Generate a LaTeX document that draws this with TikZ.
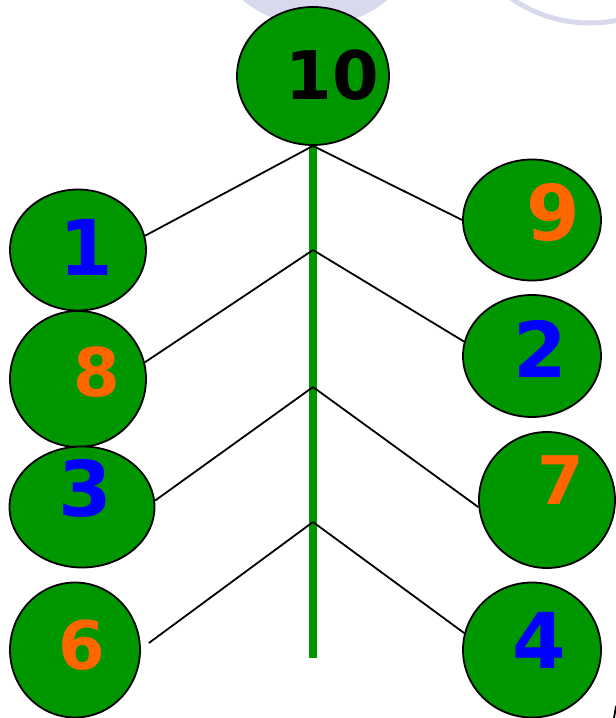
\documentclass[tikz,border=0pt]{standalone}
\usepackage{fontspec}
\setmainfont{DejaVu Sans}
\usepackage{tikz}
\usetikzlibrary{shapes.geometric}

\definecolor{leafgreen}{RGB}{0,150,0}
\definecolor{numorange}{RGB}{255,102,0}
\definecolor{numblue}{RGB}{0,0,255}
\definecolor{lavender}{RGB}{217,217,238}

\begin{document}
\begin{tikzpicture}[
  x=1pt, y=-1pt,
  bub/.style 2 args={ellipse, draw=black, line width=1.8pt, fill=leafgreen,
                     inner sep=0pt, minimum width=#1pt, minimum height=#2pt},
  num/.style={font=\fontsize{77}{80}\selectfont\bfseries, inner sep=0pt},
  small/.style={num, font=\fontsize{67}{70}\selectfont\bfseries},
  twig/.style={line width=1.8pt, black, line join=round},
  trunk/.style={line width=8pt, leafgreen}
]
\useasboundingbox (0,0) rectangle (616,718);

% pale shapes cut by the top edge
\fill[lavender] (315,-88) circle[radius=114pt];
\draw[lavender, line width=5pt] (590,-115) circle[radius=138pt];

% bubbles
\node[bub={152}{138}] (n10) at (313,76)  {};
\node[bub={136}{121}] (n1)  at (78,250)  {};
\node[bub={136}{136}] (n8)  at (78,379)  {};
\node[bub={145}{121}] (n3)  at (82,507)  {};
\node[bub={130}{135}] (n6)  at (75,650)  {};
\node[bub={138}{121}] (n9)  at (532,220) {};
\node[bub={138}{122}] (n2)  at (532,356) {};
\node[bub={136}{136}] (n7)  at (547,500) {};
\node[bub={138}{135}] (n4)  at (532,650) {};

% numbers
\node[small]                  (t10) at (332,75)  {10};
\node[num, text=numblue]      (t1)  at (86,247)  {1};
\node[small, text=numorange]  (t8)  at (97,372)  {8};
\node[num, text=numblue]      (t3)  at (85,488)  {3};
\node[small, text=numorange]  (t6)  at (82,645)  {6};
\node[num, text=numorange]    (t9)  at (553,213) {9};
\node[num, text=numblue]      (t2)  at (540,349) {2};
\node[small, text=numorange]  (t7)  at (561,480) {7};
\node[num, text=numblue]      (t4)  at (539,640) {4};

% trunk and twigs
\coordinate (b2)   at (313,250);
\coordinate (b3)   at (313,387);
\coordinate (b4)   at (313,522);
\coordinate (root) at (313,658);
\draw[trunk] (n10.south) -- (root);

\draw[twig] (n1.12) -- (n10.south) -- (n9.west);
\draw[twig] (n8.14) -- (b2) -- (n2.168);
\draw[twig] (n3.5)  -- (b3) -- (n7.186);
\draw[twig] ([xshift=8pt,yshift=7pt]n6.east) -- (b4) -- (n4.166);

% stray mark at the corner
\draw[twig] (616,706) -- (614,718);
\end{tikzpicture}
\end{document}
